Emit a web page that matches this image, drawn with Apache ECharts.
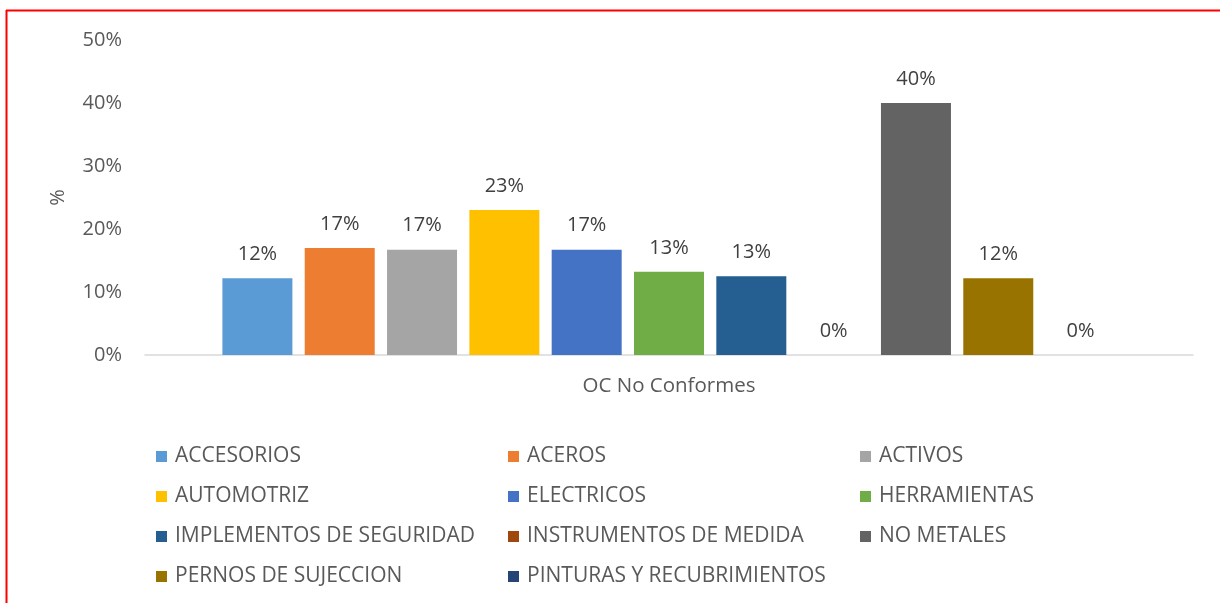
<!DOCTYPE html>
<html>
<head>
<meta charset="utf-8">
<script src="https://cdn.jsdelivr.net/npm/echarts@6/dist/echarts.min.js"></script>
<style>
	html, body { margin: 0; padding: 0; background: #fff; }
	#mychart { width: 1220px; height: 603px; }
</style>
</head>
<body>
<div id="mychart"></div>
<script>
// categoria del eje x
var categorias = ['OC No Conformes'];
// series (una barra por serie)
var nombres = ['ACCESORIOS', 'ACEROS', 'ACTIVOS', 'AUTOMOTRIZ', 'ELECTRICOS', 'HERRAMIENTAS',
	'IMPLEMENTOS DE SEGURIDAD', 'INSTRUMENTOS DE MEDIDA', 'NO METALES', 'PERNOS DE SUJECCION',
	'PINTURAS Y RECUBRIMIENTOS'];
var valores = [12.2, 17.0, 16.7, 23.0, 16.7, 13.2, 12.5, 0, 40.0, 12.2, 0];
var colores = ['#5B9BD5', '#ED7D31', '#A5A5A5', '#FFC000', '#4472C4', '#70AD47',
	'#255E91', '#9E480E', '#636363', '#997300', '#264478'];
var ticksY = [0, 10, 20, 30, 40, 50];

var fuente = 'Open Sans';
var myChart = echarts.init(document.getElementById('mychart'));

var series = [];
for (var i = 0; i < nombres.length; i++) {
	series.push({
		name: nombres[i],
		type: 'bar',
		barWidth: 70,
		barGap: '17.6%',
		itemStyle: { color: colores[i] },
		label: {
			show: true,
			position: 'top',
			distance: 14,
			color: '#404040',
			fontFamily: fuente,
			fontSize: 20,
			formatter: function(p) {
				return Math.round(p.value) + '%';
			}
		},
		data: [valores[i]]
	});
}

// leyenda en tres columnas
function columna(idx, left) {
	var d = [];
	for (var k = idx; k < nombres.length; k += 3) d.push(nombres[k]);
	return {
		data: d,
		orient: 'vertical',
		left: left,
		top: 441,
		itemWidth: 11,
		itemHeight: 11,
		itemGap: 19,
		icon: 'rect',
		textStyle: {
			color: '#595959',
			fontFamily: fuente,
			fontSize: 21,
			lineHeight: 21,
			padding: [0, 0, 0, 3]
		}
	};
}

option = {
	animation: false,
	backgroundColor: '#fff',
	grid: {
		left: 145,
		right: 27,
		top: 40,
		bottom: 248
	},
	legend: [columna(0, 151), columna(1, 503), columna(2, 855)],
	xAxis: {
		type: 'category',
		data: categorias,
		axisLine: { lineStyle: { color: '#d9d9d9', width: 1.5 } },
		axisTick: { show: false },
		axisLabel: {
			color: '#595959',
			fontFamily: fuente,
			fontSize: 20.5,
			lineHeight: 20,
			margin: 21
		}
	},
	yAxis: {
		type: 'value',
		min: ticksY[0],
		max: ticksY[ticksY.length - 1],
		interval: 10,
		name: '%',
		nameLocation: 'middle',
		nameGap: 77,
		nameTextStyle: { color: '#595959', fontFamily: fuente, fontSize: 20 },
		splitLine: { show: false },
		axisLine: { show: false },
		axisTick: { show: false },
		axisLabel: {
			color: '#595959',
			fontFamily: fuente,
			fontSize: 20,
			margin: 23,
			formatter: '{value}%'
		}
	},
	graphic: [
		{ type: 'line', shape: { x1: 6, y1: 10.5, x2: 1220, y2: 10.5 }, style: { stroke: '#ff0000', lineWidth: 2 } },
		{ type: 'line', shape: { x1: 6.5, y1: 10, x2: 6.5, y2: 603 }, style: { stroke: '#ff0000', lineWidth: 2 } }
	],
	series: series
};
myChart.setOption(option);
window.onresize = myChart.resize;
</script>
</body>
</html>
